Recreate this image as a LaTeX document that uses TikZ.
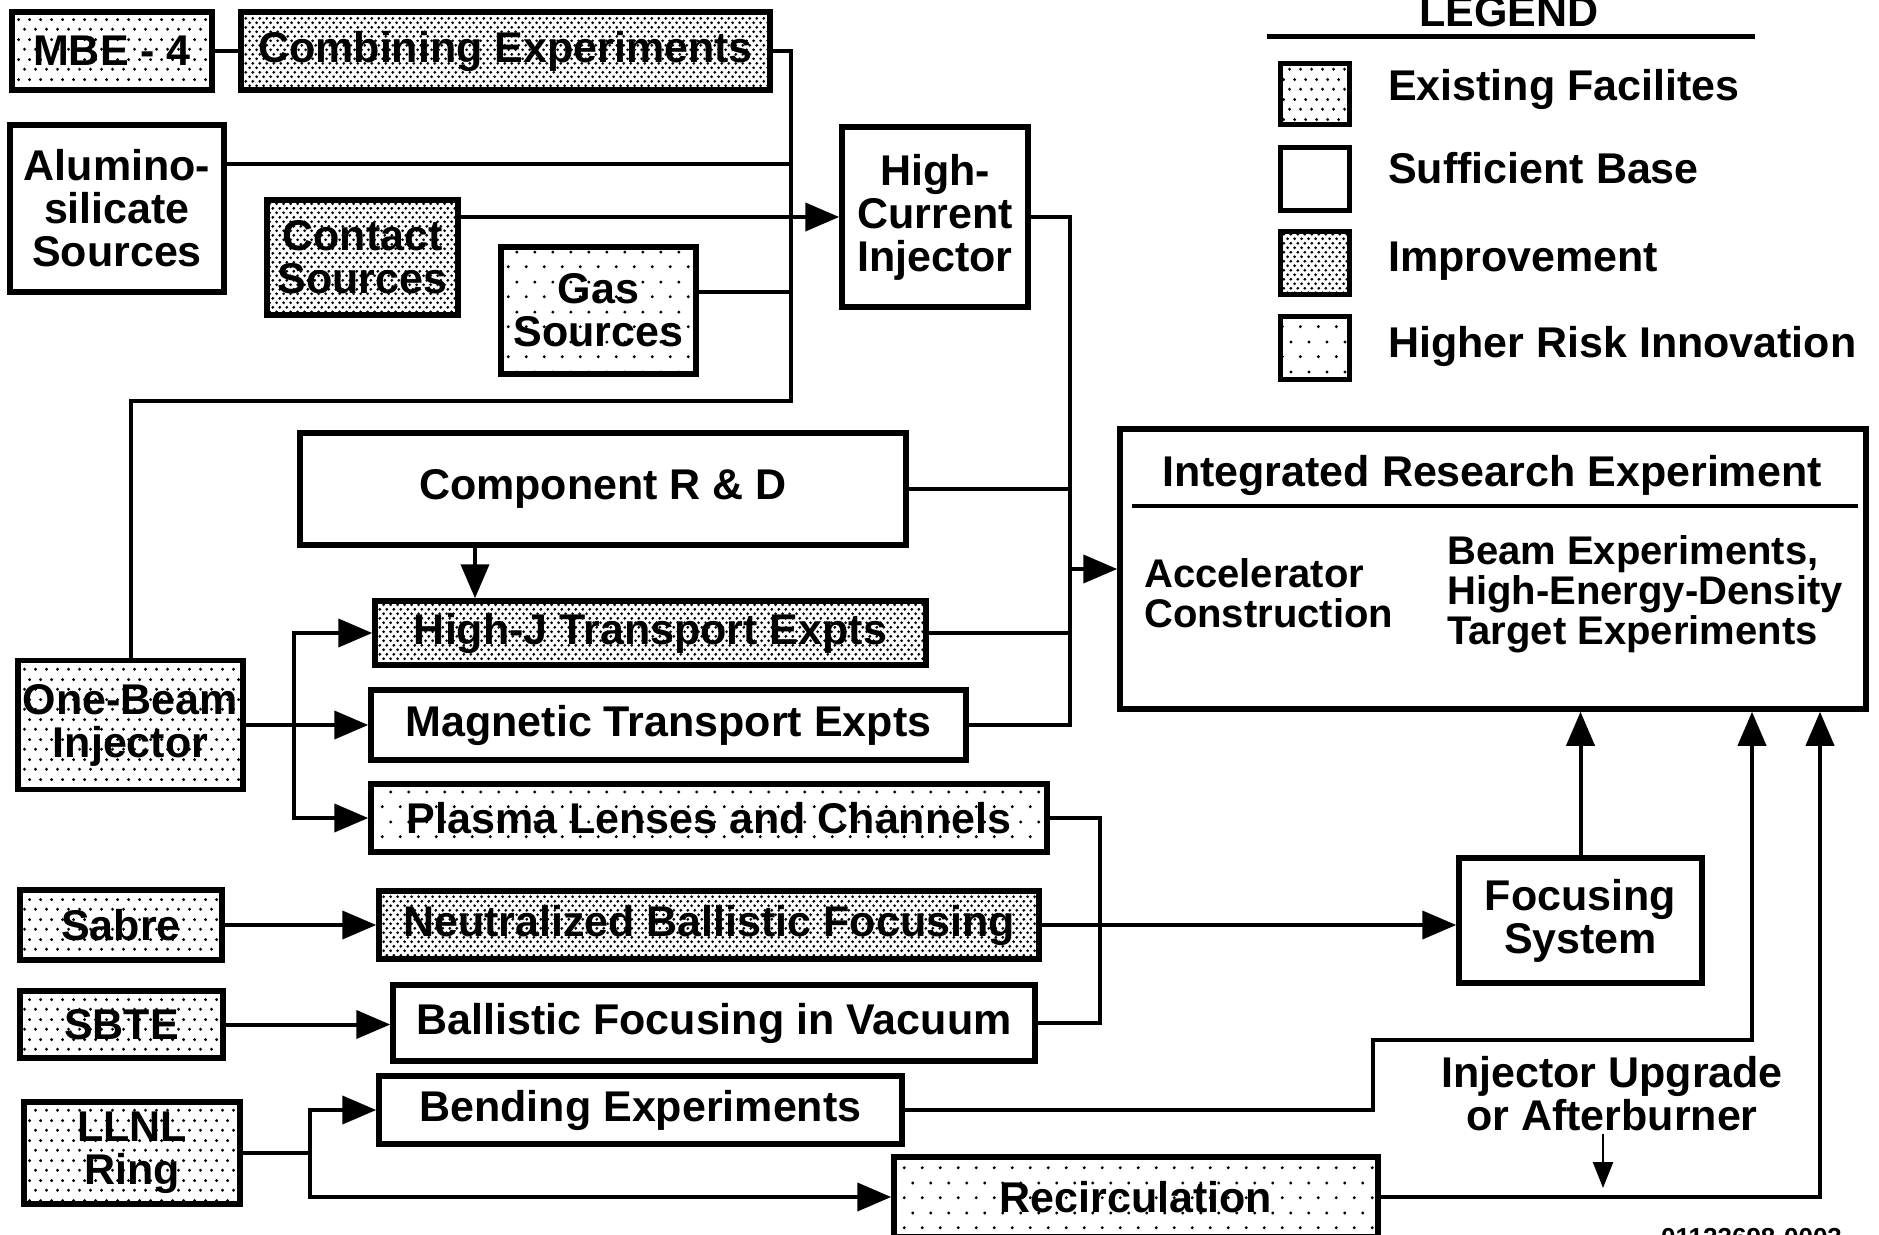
\documentclass[tikz,border=0pt]{standalone}
\usepackage{fontspec}
\setmainfont{Liberation Sans}
\usetikzlibrary{arrows.meta,patterns}

% dot fills of the legend
\pgfdeclarepatternformonly{improvedots}{\pgfqpoint{0pt}{0pt}}{\pgfqpoint{6.7pt}{9.4pt}}{\pgfqpoint{6.7pt}{9.4pt}}{%
  \pgfpathcircle{\pgfqpoint{1.675pt}{2.35pt}}{1.6pt}%
  \pgfpathcircle{\pgfqpoint{5.025pt}{7.05pt}}{1.6pt}%
  \pgfusepath{fill}}
\pgfdeclarepatternformonly{existdots}{\pgfqpoint{0pt}{0pt}}{\pgfqpoint{11pt}{20pt}}{\pgfqpoint{11pt}{20pt}}{%
  \pgfpathcircle{\pgfqpoint{2.75pt}{5pt}}{1.7pt}%
  \pgfpathcircle{\pgfqpoint{8.25pt}{15pt}}{1.7pt}%
  \pgfusepath{fill}}
\pgfdeclarepatternformonly{riskdots}{\pgfqpoint{0pt}{0pt}}{\pgfqpoint{18pt}{30pt}}{\pgfqpoint{18pt}{30pt}}{%
  \pgfpathcircle{\pgfqpoint{4.5pt}{7.5pt}}{1.7pt}%
  \pgfpathcircle{\pgfqpoint{13.5pt}{22.5pt}}{1.7pt}%
  \pgfusepath{fill}}

\begin{document}
\begin{tikzpicture}[x=1pt,y=-1pt,
    every node/.style={font=\bfseries\fontsize{43}{43}\selectfont, inner sep=2pt, align=center},
    small/.style={font=\bfseries\fontsize{40}{40}\selectfont, align=left},
    box/.style={draw, line width=5.5pt},
    base/.style={box},
    existing/.style={box, pattern=existdots},
    improve/.style={box, pattern=improvedots},
    risk/.style={box, pattern=riskdots},
    link/.style={line width=4pt},
    feed/.style={link, -{Triangle[length=34pt,width=28pt]}},
    hint/.style={line width=2.5pt, -{Triangle[length=26pt,width=20pt]}}]
        \useasboundingbox (0,0) rectangle (1879,1234);

        % Sources
        \node[existing, minimum width=200pt, minimum height=78pt] (mbe) at (112,51) {MBE - 4};
        \node[improve, minimum width=529pt, minimum height=78pt] (comb) at (505.5,51) {Combining Experiments};
        \node[base, minimum width=214pt, minimum height=167pt] (alum) at (117,208.5) {Alumino-\\silicate\\Sources};
        \node[improve, minimum width=191pt, minimum height=115pt] (contact) at (362.5,257.5) {Contact\\Sources};
        \node[risk, minimum width=195pt, minimum height=127pt] (gas) at (598.5,310.5) {Gas\\Sources};
        \node[base, minimum width=186pt, minimum height=180pt] (hci) at (935,217) {High-\\Current\\Injector};
        \node[existing, minimum width=225pt, minimum height=129pt] (onebeam) at (130.5,725) {One-Beam\\Injector};

        % Source bus
        \coordinate (srcS) at (791,401);
        \coordinate (alumJ) at (791,164);
        \coordinate (gasJ) at (791,292);
        \draw[link] (mbe) -- (comb);
        \draw[link] (comb.east) -| (srcS) -| (onebeam.north);
        \draw[link] (alum.east |- alumJ) -- (alumJ);
        \draw[feed] (contact.east |- hci.west) -- (hci.west);
        \draw[link] (gas.east |- gasJ) -- (gasJ);

        % Transport experiments
        \node[base, minimum width=606pt, minimum height=112pt] (comp) at (603,489) {Component R \& D};
        \node[improve, minimum width=551pt, minimum height=64pt] (highj) at (650.5,633) {High-J Transport Expts};
        \node[base, minimum width=595pt, minimum height=70pt] (magn) at (668.5,725) {Magnetic Transport Expts};
        \node[risk, minimum width=676pt, minimum height=68pt] (plasma) at (709,818) {Plasma Lenses and Channels};

        \coordinate (rdX) at (475,545);
        \draw[feed] (rdX) -- (rdX |- highj.north);

        \coordinate (obJ) at (294,725);
        \draw[link] (onebeam.east) -- (obJ);
        \draw[feed] (obJ) |- (highj.west);
        \draw[feed] (obJ) -- (magn.west);
        \draw[feed] (obJ) |- (plasma.west);

        % Integrated Research Experiment
        \node[box, minimum width=746pt, minimum height=280pt] (ire) at (1493,569) {};
        \node (iretitle) at (1492,475) {Integrated Research Experiment};
        \coordinate (ruleL) at (1132,506);
        \coordinate (ruleR) at (1858,506);
        \draw[line width=4.5pt] (ruleL) -- (ruleR);
        \node[small, anchor=west] (accel) at (1142,593) {Accelerator\\Construction};
        \node[small, anchor=west] (beamexp) at (1445,594) {Beam Experiments,\\High-Energy-Density\\Target Experiments};

        \coordinate (expJ) at (1070,569);
        \draw[link] (hci.east) -| (expJ |- magn.east) -- (magn.east);
        \draw[link] (comp.east) -- (comp.east -| expJ);
        \draw[link] (highj.east) -- (highj.east -| expJ);
        \draw[feed] (expJ) -- (ire.west);

        % Focusing
        \node[existing, minimum width=202pt, minimum height=70pt] (sabre) at (121,925) {Sabre};
        \node[improve, minimum width=660pt, minimum height=68pt] (nbf) at (709,925) {Neutralized Ballistic Focusing};
        \node[existing, minimum width=203pt, minimum height=67pt] (sbte) at (121.5,1024.5) {SBTE};
        \node[base, minimum width=642pt, minimum height=76pt] (bfv) at (714,1023) {Ballistic Focusing in Vacuum};
        \node[base, minimum width=243pt, minimum height=125pt] (focus) at (1580.5,920.5) {Focusing\\System};

        \coordinate (focJ) at (1100,925);
        \draw[feed] (sabre.east) -- (sabre.east -| nbf.west);
        \draw[feed] (sbte.east) -- (sbte.east -| bfv.west);
        \draw[link] (plasma.east) -| (focJ);
        \draw[link] (bfv.east) -| (focJ);
        \draw[feed] (nbf.east) -- (nbf.east -| focus.west);
        \draw[feed] (focus.north) -- (focus.north |- ire.south);

        % Ring
        \node[existing, minimum width=216pt, minimum height=102pt] (llnl) at (132,1153) {LLNL\\Ring};
        \node[base, minimum width=523pt, minimum height=68pt] (bend) at (640.5,1110) {Bending Experiments};
        \node[risk, minimum width=484pt, minimum height=80pt] (recirc) at (1136,1197) {Recirculation};

        \coordinate (ringJ) at (310,1153);
        \coordinate (upX) at (1373,1040);
        \coordinate (aftX) at (1752,1040);
        \coordinate (recX) at (1820,1197);
        \draw[link] (llnl.east) -- (ringJ);
        \draw[feed] (ringJ) |- (bend.west);
        \draw[feed] (ringJ) |- (recirc.west);
        \draw[feed] (bend.east) -| (upX) -| (aftX |- ire.south);
        \draw[feed] (recirc.east) -| (recX |- ire.south);

        \node (upgrade) at (1612,1094) {Injector Upgrade\\or Afterburner};
        \coordinate (noteTip) at (1603,1188);
        \draw[hint] (upgrade.south -| noteTip) -- (noteTip);

        % Legend
        \node[anchor=base] (legtitle) at (1509,27) {LEGEND};
        \coordinate (legL) at (1267,36);
        \coordinate (legR) at (1755,36);
        \draw[line width=5pt] (legL) -- (legR);
        \node[existing, minimum width=69pt, minimum height=61pt] (keyexist) at (1315,94) {};
        \node[base, minimum width=69pt, minimum height=63pt] (keybase) at (1315,179) {};
        \node[improve, minimum width=69pt, minimum height=63pt] (keyimprove) at (1315,263) {};
        \node[risk, minimum width=69pt, minimum height=63pt] (keyrisk) at (1315,348) {};
        \node[anchor=west] (txtexist) at (1386,89) {Existing Facilites};
        \node[anchor=west] (txtbase) at (1386,168) {Sufficient Base};
        \node[anchor=west] (txtimprove) at (1386,261) {Improvement};
        \node[anchor=west] (txtrisk) at (1386,346) {Higher Risk Innovation};

        % Drawing number
        \node[anchor=base west, font=\bfseries\fontsize{26}{26}\selectfont] (dwgno) at (1659,1246) {01123698-0003};
    \end{tikzpicture}
\end{document}
